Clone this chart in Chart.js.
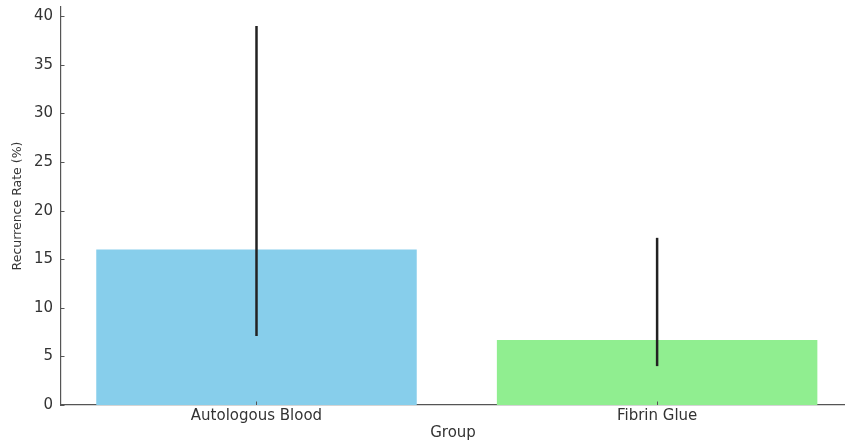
<!DOCTYPE html>
<html>
    <head>
        <title>Recurrence rate by group</title>
        <meta charset="UTF-8">
        <script src="https://cdn.jsdelivr.net/npm/chart.js@4.4.1/dist/chart.umd.min.js"></script>
        <style>
            body { margin: 0; background: #fff; }
            #chart { display: block; }
        </style>
    </head>
    <body>
        <canvas id="chart" width="845" height="446"></canvas>

        <script>
            // data
            var groups = ['Autologous Blood', 'Fibrin Glue'];
            var rates = [16.0, 6.7];
            var ciLow = [7.1, 4.0];
            var ciHigh = [39.0, 17.2];
            var barColors = ['#87CEEB', '#90EE90'];
            var yTicks = [0, 5, 10, 15, 20, 25, 30, 35, 40];

            var textColor = '#333';
            var axisColor = '#555';

            // error bars + inward tick marks (matplotlib look)
            var errorBars = {
                id: 'errorBars',
                afterDatasetsDraw: function (chart) {
                    var ctx = chart.ctx;
                    var x = chart.scales.x;
                    var y = chart.scales.y;
                    ctx.save();
                    ctx.strokeStyle = '#222';
                    ctx.lineWidth = 2.5;
                    for (var i = 0; i < groups.length; i++) {
                        var px = x.getPixelForValue(i);
                        ctx.beginPath();
                        ctx.moveTo(px, y.getPixelForValue(ciLow[i]));
                        ctx.lineTo(px, y.getPixelForValue(ciHigh[i]));
                        ctx.stroke();
                    }
                    ctx.strokeStyle = axisColor;
                    ctx.lineWidth = 1;
                    var left = chart.chartArea.left;
                    var bottom = chart.chartArea.bottom;
                    yTicks.forEach(function (v) {
                        var py = Math.round(y.getPixelForValue(v)) + 0.5;
                        ctx.beginPath();
                        ctx.moveTo(left, py);
                        ctx.lineTo(left + 3.5, py);
                        ctx.stroke();
                    });
                    groups.forEach(function (g, i) {
                        var px = Math.round(x.getPixelForValue(i)) + 0.5;
                        ctx.beginPath();
                        ctx.moveTo(px, bottom);
                        ctx.lineTo(px, bottom - 3.5);
                        ctx.stroke();
                    });
                    ctx.restore();
                }
            };

            var chart = new Chart(document.getElementById('chart'), {
                type: 'bar',
                data: {
                    datasets: [{
                            label: 'Recurrence Rate (%)',
                            data: groups.map(function (g, i) { return {x: i, y: rates[i]}; }),
                            backgroundColor: barColors,
                            borderWidth: 0,
                            barPercentage: 0.8,
                            categoryPercentage: 1.0
                        }]
                },
                options: {
                    responsive: false,
                    animation: false,
                    layout: {padding: {top: 7, left: 0, right: 0, bottom: 0}},
                    plugins: {
                        legend: {display: false},
                        tooltip: {enabled: false}
                    },
                    scales: {
                        x: {
                            type: 'linear',
                            offset: false,
                            min: -0.488,
                            max: 1.469,
                            grid: {display: false, offset: false, drawTicks: false},
                            border: {display: true, color: axisColor, width: 1.2},
                            afterBuildTicks: function (scale) {
                                scale.ticks = groups.map(function (g, i) { return {value: i}; });
                            },
                            afterFit: function (scale) {
                                scale.height = 41;
                                scale.paddingLeft = 0;
                                scale.paddingRight = 0;
                            },
                            ticks: {
                                color: textColor,
                                padding: 2,
                                maxRotation: 0,
                                font: {family: 'DejaVu Sans', size: 15},
                                callback: function (v) { return groups[v]; }
                            },
                            title: {
                                display: true,
                                text: 'Group',
                                color: textColor,
                                padding: {top: 0, bottom: 4},
                                font: {family: 'DejaVu Sans', size: 15}
                            }
                        },
                        y: {
                            min: 0,
                            max: 40.95,
                            grid: {display: false, drawTicks: false},
                            border: {display: true, color: axisColor, width: 1.2},
                            afterFit: function (scale) {
                                scale.width = 61;
                                scale.paddingTop = 0;
                                scale.paddingBottom = 0;
                            },
                            afterBuildTicks: function (scale) {
                                scale.ticks = yTicks.map(function (v) { return {value: v}; });
                            },
                            ticks: {
                                color: textColor,
                                padding: 8,
                                font: {family: 'DejaVu Sans', size: 15}
                            },
                            title: {
                                display: true,
                                text: 'Recurrence Rate (%)',
                                color: textColor,
                                padding: {top: 10, bottom: 0},
                                font: {family: 'DejaVu Sans', size: 12.5}
                            }
                        }
                    }
                },
                plugins: [errorBars]
            });
        </script>
    </body>
</html>
